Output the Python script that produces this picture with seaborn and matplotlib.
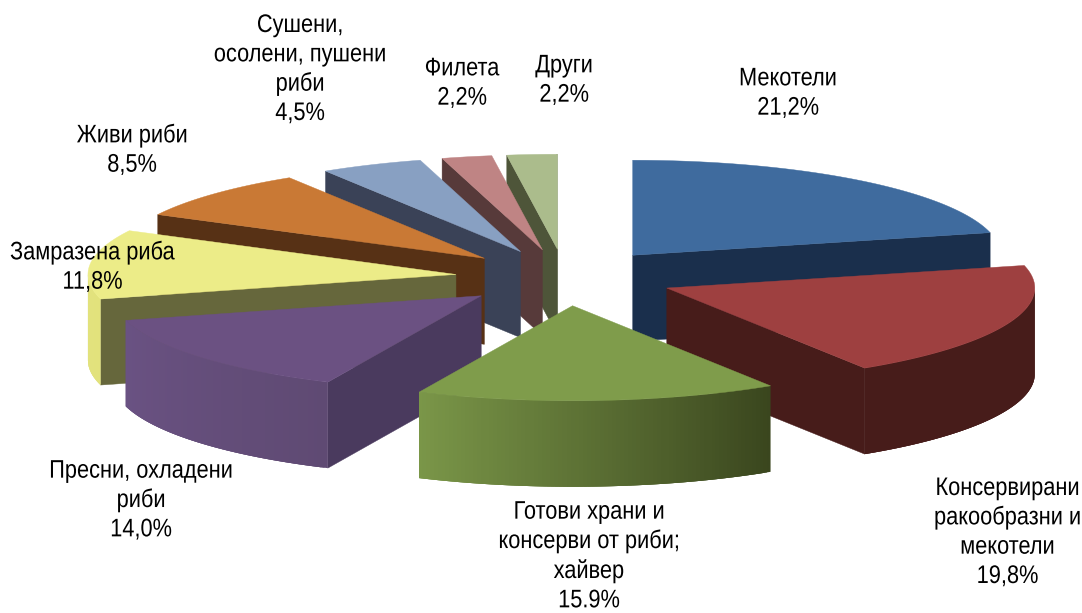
import numpy as np
import matplotlib
matplotlib.use("Agg")
import matplotlib.pyplot as plt
from matplotlib.collections import PolyCollection
from matplotlib.colors import to_rgb
from matplotlib.patheffects import AbstractPathEffect
from matplotlib.transforms import Affine2D
import seaborn as sns

# ---- data ----
labels = ["Мекотели", "Консервирани\nракообразни и\nмекотели",
          "Готови храни и\nконсерви от риби;\nхайвер", "Пресни, охладени\nриби",
          "Замразена риба", "Живи риби", "Сушени,\nосолени, пушени\nриби",
          "Филета", "Други"]
values = [21.2, 19.8, 15.9, 14.0, 11.8, 8.5, 4.5, 2.2, 2.2]
value_labels = ["21,2%", "19,8%", "15.9%", "14,0%", "11,8%", "8,5%", "4,5%", "2,2%", "2,2%"]

# ---- style ----
top_colors = ["#3F6B9E", "#9E4040", "#7F9C4B", "#6B5182", "#ECEC88",
              "#C97935", "#88A0C2", "#BF8484", "#ABBC8C"]
wall_colors = ["#1A2F4C", "#471C1A", "#3A461E", "#4A3A5E", "#66673C",
               "#573115", "#3A4257", "#573A3A", "#4E5539"]
rim_colors = [("#1A2F4C", "#1A2F4C"), ("#471C1A", "#471C1A"), ("#3A461E", "#7A9648"),
              ("#5F4A73", "#6A5283"), ("#E2E27C", "#E2E27C"), ("#C97935", "#C97935"),
              ("#88A0C2", "#88A0C2"), ("#BF8484", "#BF8484"), ("#ABBC8C", "#ABBC8C")]
draw_order = [0, 8, 7, 6, 5, 4, 3, 1, 2]
# (anchor x, centre y, horizontal alignment)
label_pos = [(788, 93, "center"), (1081, 532, "right"), (589, 556, "center"),
             (141, 500, "center"), (10, 267, "left"), (132, 150, "center"),
             (300, 69, "center"), (462, 83, "center"), (564, 80, "center")]
CX, CY, RX, RY, DEPTH, EXPLODE = 565, 277.5, 368, 95, 86, 0.298
TEXT_SQUEEZE = 0.857


class Squeeze(AbstractPathEffect):
    """Condense a text horizontally about a fixed anchor (the source font is a narrow cut)."""

    def __init__(self, anchor_x, factor):
        super().__init__()
        self.anchor_x, self.factor = anchor_x, factor

    def draw_path(self, renderer, gc, tpath, affine, rgbFace=None):
        squeeze = Affine2D().translate(-self.anchor_x, 0).scale(self.factor, 1).translate(self.anchor_x, 0)
        renderer.draw_path(gc, tpath, affine + squeeze, rgbFace)


sns.set_theme(style="white")
plt.rcParams["font.family"] = ["Liberation Sans", "DejaVu Sans"]
fig = plt.figure(figsize=(10.82, 6.13), dpi=100)
ax = fig.add_axes([0, 0, 1, 1])
ax.set_xlim(0, 1082)
ax.set_ylim(613, 0)
ax.axis("off")

edges = np.cumsum([0] + values) / sum(values) * 2 * np.pi


def pt(ox, oy, a, dz=0.0):
    return ox + RX * np.sin(a), oy - RY * np.cos(a) + dz


for rank, i in enumerate(draw_order):
    a0, a1 = edges[i], edges[i + 1]
    mid = (a0 + a1) / 2
    ox = CX + EXPLODE * RX * np.sin(mid)
    oy = CY - EXPLODE * RY * np.cos(mid)
    apex, apex_low = (ox, oy), (ox, oy + DEPTH)
    wc = wall_colors[i]
    base = 1 + rank * 3
    # radial walls
    if np.sin(a1) > 0:
        ax.fill(*zip(apex, pt(ox, oy, a1), pt(ox, oy, a1, DEPTH), apex_low), color=wc, lw=0.3, zorder=base)
    if np.sin(a0) < 0:
        ax.fill(*zip(apex, pt(ox, oy, a0), pt(ox, oy, a0, DEPTH), apex_low), color=wc, lw=0.3, zorder=base)
    # outer rim, drawn as overlapping strips so that no seams show
    lo, hi = max(a0, np.pi / 2), min(a1, 3 * np.pi / 2)
    if hi > lo:
        aa = np.linspace(lo, hi, 90)
        c0, c1 = map(np.array, map(to_rgb, rim_colors[i]))
        quads, cols = [], []
        for k in range(len(aa) - 1):
            p, q = aa[k], aa[min(k + 3, len(aa) - 1)]
            quads.append([pt(ox, oy, p), pt(ox, oy, q), pt(ox, oy, q, DEPTH), pt(ox, oy, p, DEPTH)])
            t = k / (len(aa) - 2)
            cols.append(tuple(c0 + (c1 - c0) * t))
        ax.add_collection(PolyCollection(quads, facecolors=cols, edgecolors="none", linewidths=0,
                                         zorder=base + 1))
    # top face
    aa = np.linspace(a0, a1, 80)
    xs, ys = pt(ox, oy, aa)
    ax.fill(np.r_[ox, xs], np.r_[oy, ys], color=top_colors[i], lw=0.3, zorder=base + 2)

for lab, val, (x, y, ha) in zip(labels, value_labels, label_pos):
    anchor = ax.transData.transform((x, y))[0]
    ax.text(x, y, f"{lab}\n{val}", ha=ha, va="center", multialignment="center", fontsize=18.3,
            color="black", linespacing=1.28, zorder=100,
            path_effects=[Squeeze(anchor, TEXT_SQUEEZE)])

fig.savefig("out.png", dpi=100)
